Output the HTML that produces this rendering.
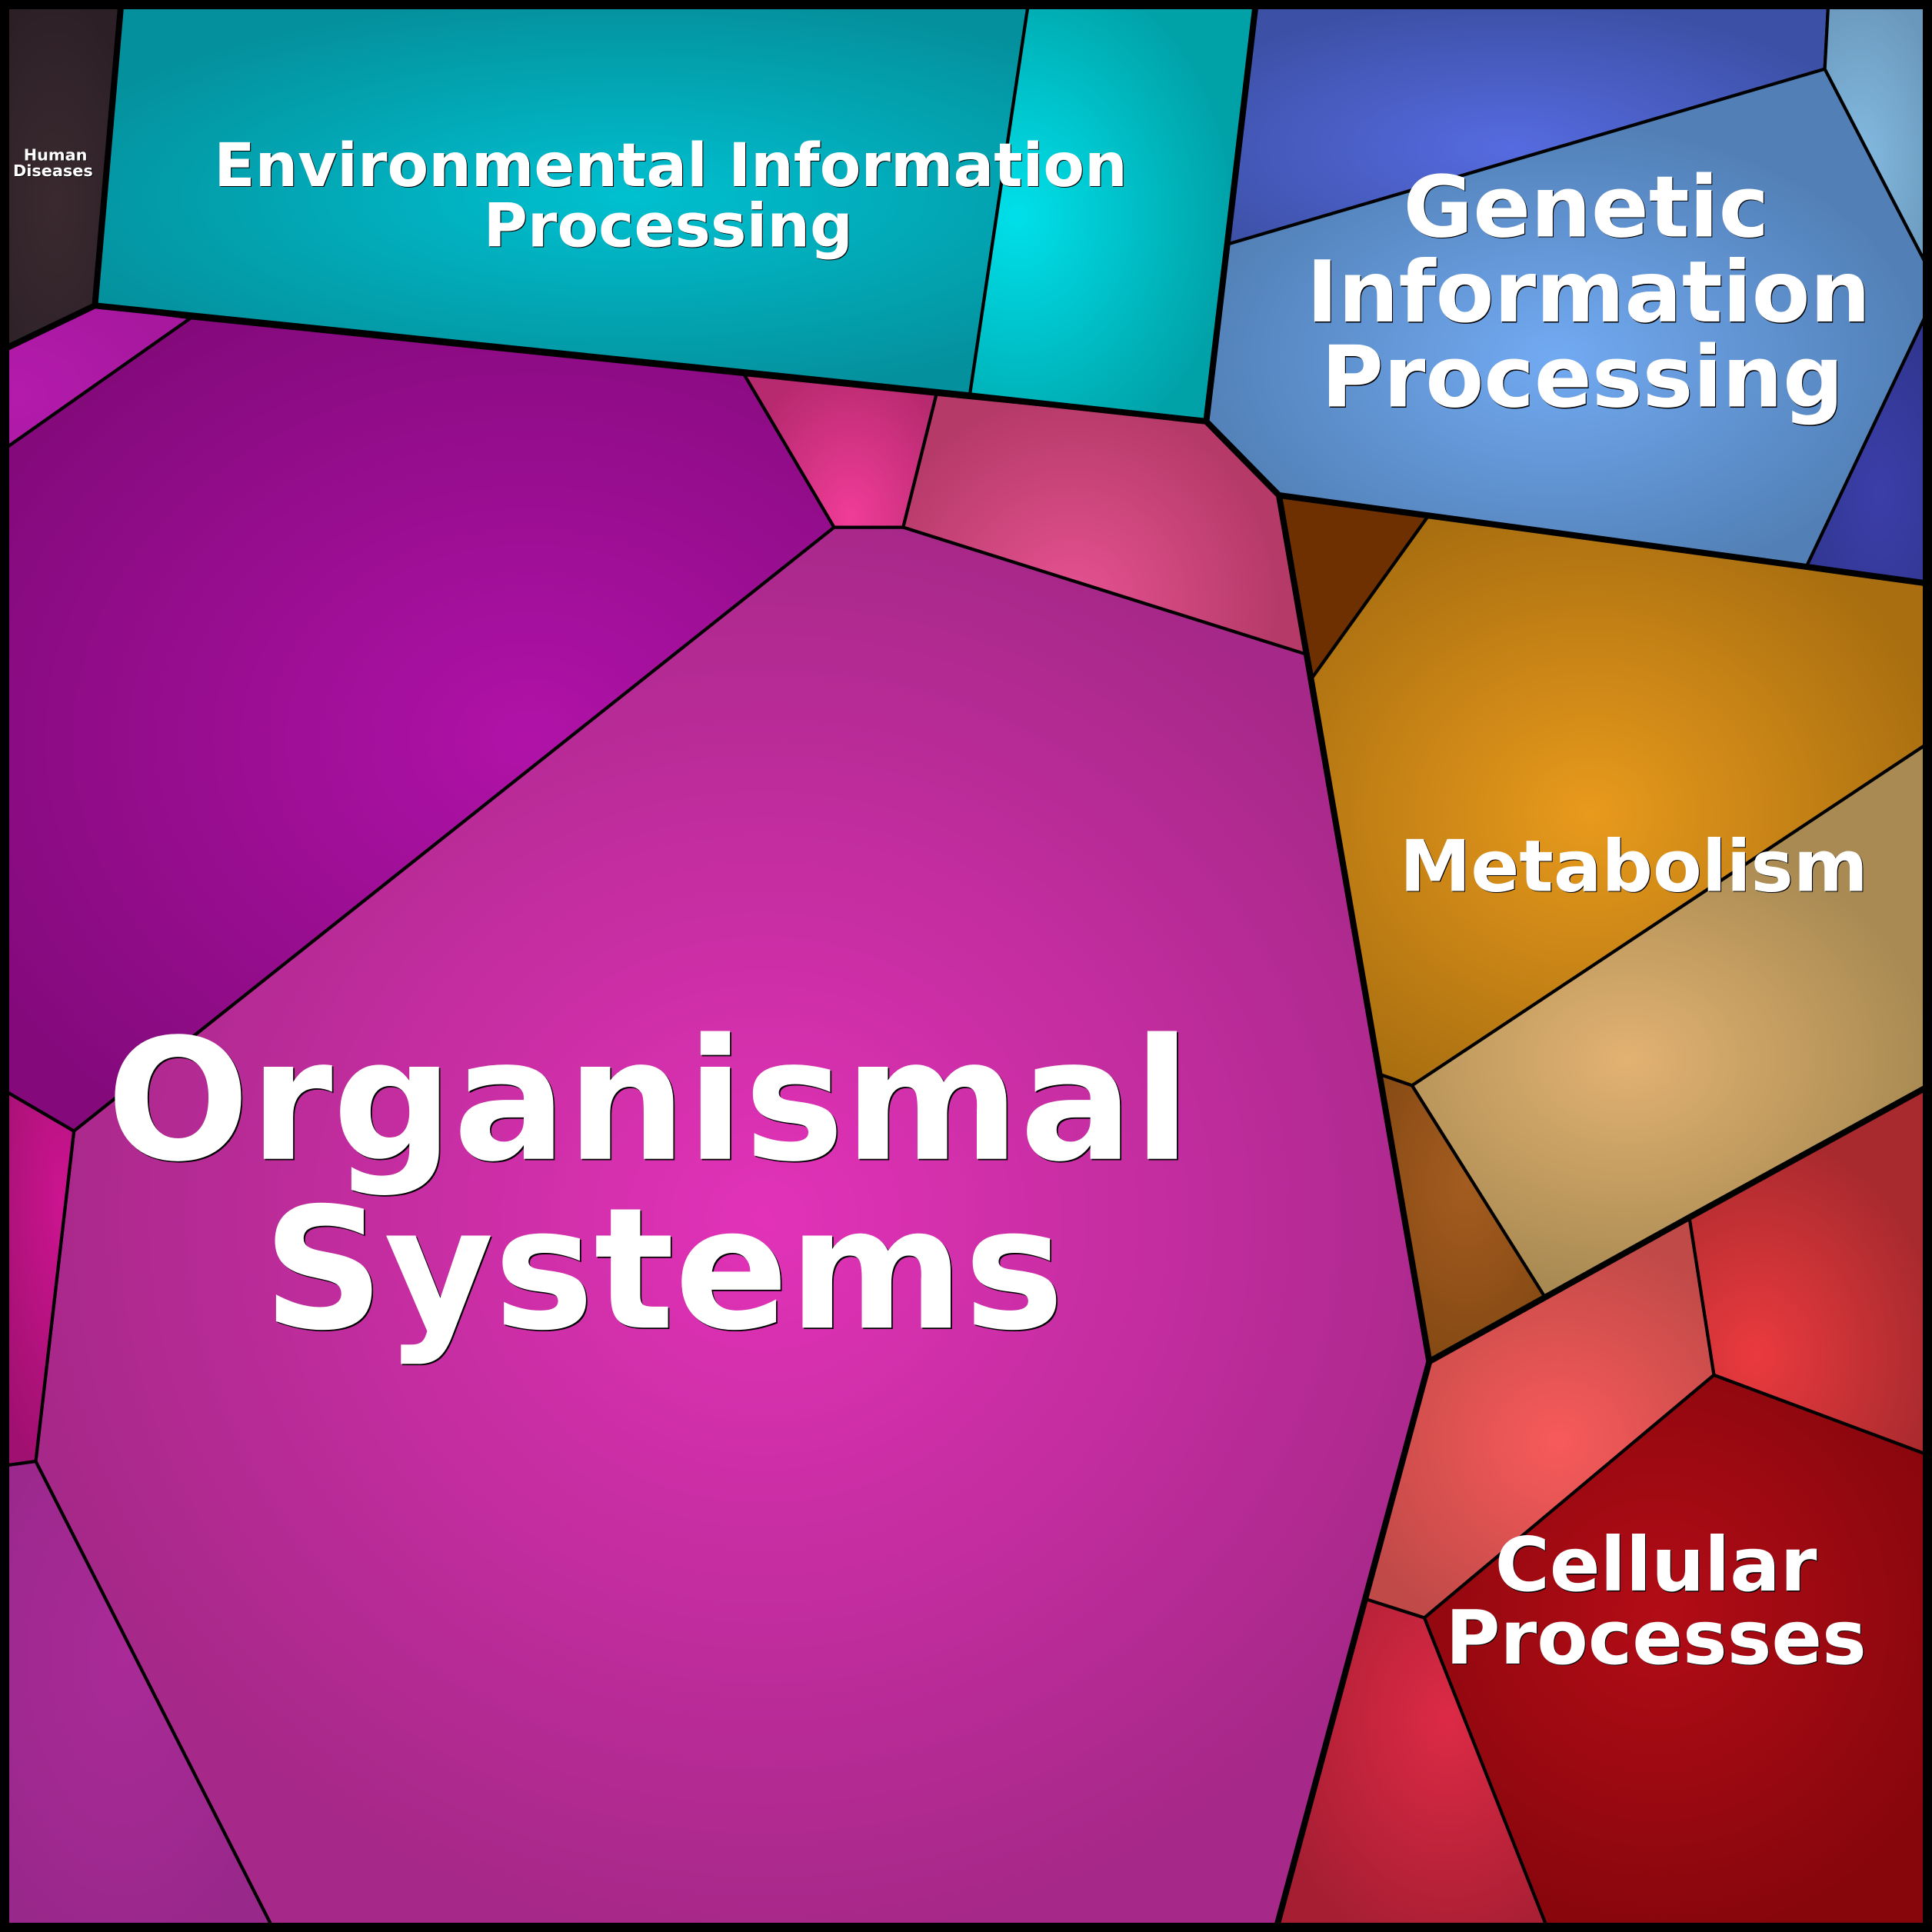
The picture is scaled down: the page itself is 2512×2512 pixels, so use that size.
<!DOCTYPE html>
<html><head><meta charset="utf-8"><style>
html,body{margin:0;padding:0;background:#000;width:2512px;height:2512px;overflow:hidden}
svg{display:block}
text{font-family:"DejaVu Sans",sans-serif;font-weight:700;text-anchor:middle}
.t{fill:#fff}.s{fill:#000}
polygon{stroke:#000;stroke-width:2.6;stroke-linejoin:miter}
polyline{fill:none;stroke:#000;stroke-width:5}
</style></head><body>
<svg width="2512" height="2512" viewBox="0 0 1568 1568" xmlns="http://www.w3.org/2000/svg">
<defs>
<radialGradient id="a1" gradientUnits="userSpaceOnUse" cx="0" cy="0" r="1" gradientTransform="translate(45 165) scale(70 170)"><stop offset="0" stop-color="#3a2a30"/><stop offset="1" stop-color="#2c2026"/></radialGradient>
<radialGradient id="a2" gradientUnits="userSpaceOnUse" cx="0" cy="0" r="1" gradientTransform="translate(10 320) scale(130 90)"><stop offset="0" stop-color="#b41bac"/><stop offset="1" stop-color="#a8189f"/></radialGradient>
<radialGradient id="a3" gradientUnits="userSpaceOnUse" cx="0" cy="0" r="1" gradientTransform="translate(430 600) scale(500 400)"><stop offset="0" stop-color="#b012a8"/><stop offset="1" stop-color="#840a7c"/></radialGradient>
<radialGradient id="a4" gradientUnits="userSpaceOnUse" cx="0" cy="0" r="1" gradientTransform="translate(690 420) scale(90 125)"><stop offset="0" stop-color="#f03c98"/><stop offset="1" stop-color="#b82a70"/></radialGradient>
<radialGradient id="a5" gradientUnits="userSpaceOnUse" cx="0" cy="0" r="1" gradientTransform="translate(870 490) scale(170 170)"><stop offset="0" stop-color="#e65292"/><stop offset="1" stop-color="#b53a68"/></radialGradient>
<radialGradient id="a6" gradientUnits="userSpaceOnUse" cx="0" cy="0" r="1" gradientTransform="translate(620 990) scale(620 590)"><stop offset="0" stop-color="#e232b8"/><stop offset="1" stop-color="#a62888"/></radialGradient>
<radialGradient id="a7" gradientUnits="userSpaceOnUse" cx="0" cy="0" r="1" gradientTransform="translate(50 975) scale(65 230)"><stop offset="0" stop-color="#cc1490"/><stop offset="1" stop-color="#a01070"/></radialGradient>
<radialGradient id="a8" gradientUnits="userSpaceOnUse" cx="0" cy="0" r="1" gradientTransform="translate(100 1345) scale(150 260)"><stop offset="0" stop-color="#aa2a98"/><stop offset="1" stop-color="#98288a"/></radialGradient>
<radialGradient id="b1" gradientUnits="userSpaceOnUse" cx="0" cy="0" r="1" gradientTransform="translate(508 160) scale(500 165)"><stop offset="0" stop-color="#00c0d0"/><stop offset="1" stop-color="#04909c"/></radialGradient>
<radialGradient id="b2" gradientUnits="userSpaceOnUse" cx="0" cy="0" r="1" gradientTransform="translate(826 175) scale(175 210)"><stop offset="0" stop-color="#00e0ea"/><stop offset="1" stop-color="#00a2a8"/></radialGradient>
<radialGradient id="c1" gradientUnits="userSpaceOnUse" cx="0" cy="0" r="1" gradientTransform="translate(1225 120) scale(300 120)"><stop offset="0" stop-color="#566be0"/><stop offset="1" stop-color="#3c50a6"/></radialGradient>
<radialGradient id="c2" gradientUnits="userSpaceOnUse" cx="0" cy="0" r="1" gradientTransform="translate(1262 290) scale(300 190)"><stop offset="0" stop-color="#72aaf2"/><stop offset="1" stop-color="#5280b6"/></radialGradient>
<radialGradient id="c3" gradientUnits="userSpaceOnUse" cx="0" cy="0" r="1" gradientTransform="translate(1510 130) scale(70 140)"><stop offset="0" stop-color="#84bae0"/><stop offset="1" stop-color="#6a98bc"/></radialGradient>
<radialGradient id="c4" gradientUnits="userSpaceOnUse" cx="0" cy="0" r="1" gradientTransform="translate(1525 400) scale(70 140)"><stop offset="0" stop-color="#3c3ea8"/><stop offset="1" stop-color="#303690"/></radialGradient>
<radialGradient id="d1" gradientUnits="userSpaceOnUse" cx="0" cy="0" r="1" gradientTransform="translate(1290 660) scale(300 260)"><stop offset="0" stop-color="#e89a1c"/><stop offset="1" stop-color="#a86e10"/></radialGradient>
<radialGradient id="d2" gradientUnits="userSpaceOnUse" cx="0" cy="0" r="1" gradientTransform="translate(1320 860) scale(250 190)"><stop offset="0" stop-color="#e2b272"/><stop offset="1" stop-color="#a88a52"/></radialGradient>
<radialGradient id="d3" gradientUnits="userSpaceOnUse" cx="0" cy="0" r="1" gradientTransform="translate(1190 960) scale(100 160)"><stop offset="0" stop-color="#a45c20"/><stop offset="1" stop-color="#824812"/></radialGradient>
<radialGradient id="e1" gradientUnits="userSpaceOnUse" cx="0" cy="0" r="1" gradientTransform="translate(1425 1100) scale(150 180)"><stop offset="0" stop-color="#ea3a3e"/><stop offset="1" stop-color="#a82a2e"/></radialGradient>
<radialGradient id="e2" gradientUnits="userSpaceOnUse" cx="0" cy="0" r="1" gradientTransform="translate(1265 1170) scale(180 170)"><stop offset="0" stop-color="#f85a5a"/><stop offset="1" stop-color="#c04a48"/></radialGradient>
<radialGradient id="e3" gradientUnits="userSpaceOnUse" cx="0" cy="0" r="1" gradientTransform="translate(1345 1310) scale(270 270)"><stop offset="0" stop-color="#b20c16"/><stop offset="1" stop-color="#86060c"/></radialGradient>
<radialGradient id="e4" gradientUnits="userSpaceOnUse" cx="0" cy="0" r="1" gradientTransform="translate(1175 1395) scale(150 200)"><stop offset="0" stop-color="#dc2a46"/><stop offset="1" stop-color="#a61e32"/></radialGradient>
</defs>

<polygon fill="url(#a1)" points="0,0 98.5,0 77,248 0,285"/>
<polygon fill="url(#a2)" points="0,285 77,248 155,258 0,367"/>
<polygon fill="url(#a3)" points="0,367 155,258 604,304 677,428 60,918 0,883"/>
<polygon fill="url(#a4)" points="604,304 760,320 733,428 677,428"/>
<polygon fill="url(#a5)" points="760,320 979,342 1038,402 1060,531 733,428"/>
<polygon fill="url(#a6)" points="677,428 733,428 1060,531 1160,1105 1035,1568 223,1568 29,1186 60,918"/>
<polygon fill="url(#a7)" points="0,883 60,918 29,1186 0,1190"/>
<polygon fill="url(#a8)" points="0,1190 29,1186 223,1568 0,1568"/>
<polygon fill="url(#b1)" points="98.5,0 835,0 787,321 77,248"/>
<polygon fill="url(#b2)" points="835,0 1019.5,0 979,342 787,321"/>
<polygon fill="url(#c1)" points="1019.5,0 1484,0 1481,56 997,198"/>
<polygon fill="url(#c2)" points="997,198 1481,56 1562,212 1562,258 1466,460 1038,402 979,342"/>
<polygon fill="url(#c3)" points="1484,0 1568,0 1568,222 1562,212 1481,56"/>
<polygon fill="url(#c4)" points="1562,258 1568,246 1568,474 1466,460"/>
<polygon fill="#6e3000" points="1038,402 1159,419 1065,550"/>
<polygon fill="url(#d1)" points="1159,419 1466,460 1568,474 1568,601 1146,881 1120,872 1065,550"/>
<polygon fill="url(#d2)" points="1146,881 1568,601 1568,880 1254,1053"/>
<polygon fill="url(#d3)" points="1120,872 1146,881 1254,1053 1160,1105"/>
<polygon fill="url(#e1)" points="1371,988 1568,880 1568,1182 1391,1116"/>
<polygon fill="url(#e2)" points="1160,1105 1371,988 1391,1116 1156,1313 1109,1298"/>
<polygon fill="url(#e3)" points="1391,1116 1568,1182 1568,1568 1257,1568 1156,1313"/>
<polygon fill="url(#e4)" points="1109,1298 1156,1313 1257,1568 1035,1568"/>

<polyline points="98.5,0 77,248 0,285"/>
<polyline points="77,248 787,321 979,342 1019.5,0"/>
<polyline points="979,342 1038,402 1466,460 1568,474"/>
<polyline points="1038,402 1160,1105 1035,1568"/>
<polyline points="1160,1105 1371,988 1568,880"/>
<rect x="3.75" y="3.75" width="1560.5" height="1560.5" fill="none" stroke="#000" stroke-width="7.5"/>

<g font-size="136.6">
<text class="s" x="527.6" y="941.6">Organismal</text><text class="t" x="526.5" y="940.5">Organismal</text>
<text class="s" x="539.6" y="1078.6">Systems</text><text class="t" x="538.5" y="1077.5">Systems</text>
</g>
<g font-size="48.8">
<text class="s" x="545" y="151.7">Environmental Information</text><text class="t" x="544.3" y="151">Environmental Information</text>
<text class="s" x="543" y="200.7">Processing</text><text class="t" x="542.3" y="200">Processing</text>
</g>
<g font-size="69">
<text class="s" x="1288" y="192.7">Genetic</text><text class="t" x="1287.3" y="192">Genetic</text>
<text class="s" x="1290" y="261.7">Information</text><text class="t" x="1289.3" y="261">Information</text>
<text class="s" x="1285" y="330.7">Processing</text><text class="t" x="1284.3" y="330">Processing</text>
</g>
<g font-size="58">
<text class="s" x="1326.7" y="723.7">Metabolism</text><text class="t" x="1326" y="723">Metabolism</text>
</g>
<g font-size="60.5">
<text class="s" x="1344.7" y="1291.7">Cellular</text><text class="t" x="1344" y="1291">Cellular</text>
<text class="s" x="1344.7" y="1350.7">Processes</text><text class="t" x="1344" y="1350">Processes</text>
</g>
<g font-size="13">
<text class="s" x="45.6" y="130.6">Human</text><text class="t" x="45" y="130">Human</text>
<text class="s" x="43.6" y="143.6">Diseases</text><text class="t" x="43" y="143">Diseases</text>
</g>
</svg>
</body></html>
